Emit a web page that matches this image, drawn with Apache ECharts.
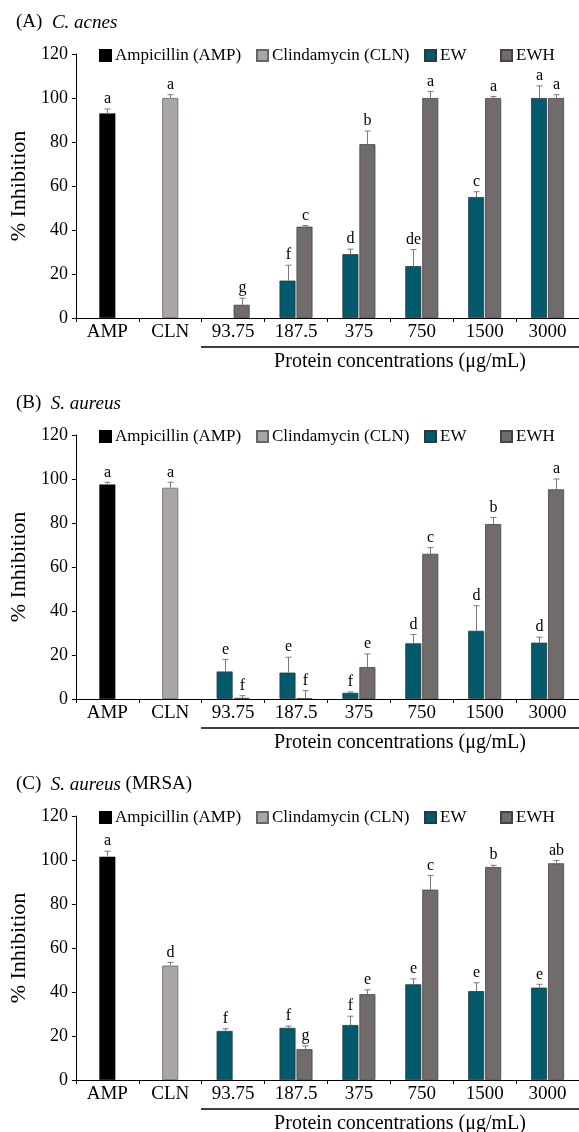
<!DOCTYPE html>
<html>
<head>
<meta charset="utf-8">
<script src="https://cdn.jsdelivr.net/npm/echarts@6/dist/echarts.min.js"></script>
<style>
html,body{margin:0;padding:0;background:#fff;}
#chart{width:579px;height:1132px;}
</style>
</head>
<body>
<div id="chart"></div>
<script>
// ---------- data ----------
const categories = ['AMP', 'CLN', '93.75', '187.5', '375', '750', '1500', '3000'];
const seriesNames = ['Ampicillin (AMP)', 'Clindamycin (CLN)', 'EW', 'EWH'];
const yMin = 0, yMax = 120, yInterval = 20;

// Panel A: C. acnes
const A_control = [93, 100];
const A_controlErr = [2, 1.5];
const A_controlLetters = ['a', 'a'];
const A_EW = [null, null, null, 17, 29, 23.6, 55, 100];
const A_EWErr = [0, 0, 0, 7, 2.3, 7.5, 2.4, 5.5];
const A_EWLetters = ['', '', '', 'f', 'd', 'de', 'c', 'a'];
const A_EWH = [null, null, 6, 41.5, 79, 100, 100, 100];
const A_EWHErr = [0, 0, 3, 0.5, 6, 3, 0.7, 1.5];
const A_EWHLetters = ['', '', 'g', 'c', 'b', 'a', 'a', 'a'];

// Panel B: S. aureus
const B_control = [97.5, 96];
const B_controlErr = [1, 2.5];
const B_controlLetters = ['a', 'a'];
const B_EW = [null, null, 12.5, 12, 2.8, 25.3, 31, 25.6];
const B_EWErr = [0, 0, 5.5, 7, 0.4, 4, 11.4, 2.5];
const B_EWLetters = ['', '', 'e', 'e', 'f', 'd', 'd', 'd'];
const B_EWH = [null, null, 0.5, 0.3, 14.5, 66, 79.5, 95.3];
const B_EWHErr = [0, 0, 1, 3.5, 6, 2.8, 3, 4.7];
const B_EWHLetters = ['', '', 'f', 'f', 'e', 'c', 'b', 'a'];

// Panel C: S. aureus (MRSA)
const C_control = [101.5, 52];
const C_controlErr = [2.5, 1.5];
const C_controlLetters = ['a', 'd'];
const C_EW = [null, null, 22.3, 23.7, 25, 43.5, 40.4, 42];
const C_EWErr = [0, 0, 1, 0.8, 4, 2.5, 3.8, 1.5];
const C_EWLetters = ['', '', 'f', 'f', 'f', 'e', 'e', 'e'];
const C_EWH = [null, null, null, 14, 39, 86.5, 96.8, 98.5];
const C_EWHErr = [0, 0, 0, 1.5, 2, 6.5, 0.8, 1.3];
const C_EWHLetters = ['', '', '', 'g', 'e', 'c', 'b', 'ab'];

const panelTitles = [
  ['(A)  ', 'C. acnes', ''],
  ['(B)  ', 'S. aureus', ''],
  ['(C)  ', 'S. aureus', ' (MRSA)']
];
const xTitle = 'Protein concentrations (\u03bcg/mL)';
const yTitle = '% Inhibition';

// ---------- styling / layout ----------
const FONT = '"Liberation Serif", "Times New Roman", serif';
const colors = ['#000000', '#aba6a6', '#035a6c', '#716b6b'];
const panels = [
  {c: A_control, cE: A_controlErr, cL: A_controlLetters, ew: A_EW, ewE: A_EWErr, ewL: A_EWLetters, ewh: A_EWH, ewhE: A_EWHErr, ewhL: A_EWHLetters},
  {c: B_control, cE: B_controlErr, cL: B_controlLetters, ew: B_EW, ewE: B_EWErr, ewL: B_EWLetters, ewh: B_EWH, ewhE: B_EWHErr, ewhL: B_EWHLetters},
  {c: C_control, cE: C_controlErr, cL: C_controlLetters, ew: C_EW, ewE: C_EWErr, ewL: C_EWLetters, ewh: C_EWH, ewhE: C_EWHErr, ewhL: C_EWHLetters}
];
const PANEL_STEP = 381;
const GRID_LEFT = 73, GRID_TOP = 54, GRID_H = 264, CAT_W = 64;
const BAR_W = 16, BAR_GAP = 1;

const option = {
  animation: false,
  backgroundColor: '#fff',
  textStyle: {fontFamily: FONT, color: '#000'},
  title: [], legend: [], grid: [], xAxis: [], yAxis: [], series: [], graphic: []
};

const legendLefts = [99, 256, 424, 500];

panels.forEach((P, p) => {
  const off = p * PANEL_STEP;
  const t = panelTitles[p];
  option.title.push({
    left: 11, top: 8 + off,
    text: t[0] + '{i|' + t[1] + '}' + t[2],
    textStyle: {fontFamily: FONT, fontSize: 19, fontWeight: 'normal', color: '#000',
      rich: {i: {fontFamily: FONT, fontSize: 19, fontStyle: 'italic', color: '#000'}}}
  });
  seriesNames.forEach((n, k) => {
    option.legend.push({
      data: [n], left: legendLefts[k], top: 47 + off, padding: 0,
      itemWidth: 11, itemHeight: 11, icon: 'rect', selectedMode: false,
      textStyle: {fontFamily: FONT, fontSize: 17, color: '#000', padding: [0, 0, 0, -1]}
    });
  });
  option.grid.push({left: GRID_LEFT, top: GRID_TOP + off, width: CAT_W * categories.length, height: GRID_H, containLabel: false});
  option.xAxis.push({
    type: 'category', gridIndex: p, data: categories,
    axisLine: {lineStyle: {color: '#000', width: 1}},
    axisTick: {show: true, length: 4, lineStyle: {color: '#000'}},
    axisLabel: {fontFamily: FONT, fontSize: 19, color: '#000', margin: 5, interval: 0}
  });
  option.xAxis.push({type: 'category', gridIndex: p, data: categories, show: false});
  option.yAxis.push({
    type: 'value', gridIndex: p, min: yMin, max: yMax, interval: yInterval,
    name: yTitle, nameLocation: 'middle', nameGap: 42,
    nameTextStyle: {fontFamily: FONT, fontSize: 22, color: '#000'},
    axisLine: {show: true, lineStyle: {color: '#000', width: 1}},
    axisTick: {show: true, length: 4, lineStyle: {color: '#000'}},
    axisLabel: {fontFamily: FONT, fontSize: 18, color: '#000', margin: 8},
    splitLine: {show: false}
  });
  const ampData = categories.map((c, i) => i === 0 ? P.c[0] : null);
  const clnData = categories.map((c, i) => i === 1 ? P.c[1] : null);
  option.series.push({
    name: seriesNames[0], type: 'bar', xAxisIndex: 2 * p, yAxisIndex: p, stack: 'ctrl' + p,
    barWidth: BAR_W, data: ampData, itemStyle: {color: colors[0], borderColor: '#000', borderWidth: 0.5}
  });
  option.series.push({
    name: seriesNames[1], type: 'bar', xAxisIndex: 2 * p, yAxisIndex: p, stack: 'ctrl' + p,
    barWidth: BAR_W, data: clnData, itemStyle: {color: colors[1], borderColor: '#666', borderWidth: 0.8}
  });
  option.series.push({
    name: seriesNames[2], type: 'bar', xAxisIndex: 2 * p + 1, yAxisIndex: p,
    barWidth: BAR_W, barGap: (BAR_GAP / BAR_W * 100) + '%', data: P.ew,
    itemStyle: {color: colors[2], borderColor: '#2a3a40', borderWidth: 0.8}
  });
  option.series.push({
    name: seriesNames[3], type: 'bar', xAxisIndex: 2 * p + 1, yAxisIndex: p,
    barWidth: BAR_W, barGap: (BAR_GAP / BAR_W * 100) + '%', data: P.ewh,
    itemStyle: {color: colors[3], borderColor: '#444', borderWidth: 0.8}
  });
  // error bars + significance letters
  const items = [];
  const shift = (BAR_W + BAR_GAP) / 2;
  P.c.forEach((v, i) => items.push({value: [i, v, P.cE[i]], dx: 0, letter: P.cL[i]}));
  P.ew.forEach((v, i) => { if (v != null) items.push({value: [i, v, P.ewE[i]], dx: -shift, letter: P.ewL[i]}); });
  P.ewh.forEach((v, i) => { if (v != null) items.push({value: [i, v, P.ewhE[i]], dx: shift, letter: P.ewhL[i]}); });
  option.series.push({
    type: 'custom', xAxisIndex: 2 * p, yAxisIndex: p, clip: false, silent: true, z: 5,
    data: items.map(d => d.value),
    renderItem: function (params, api) {
      const d = items[params.dataIndex];
      const base = api.coord([api.value(0), api.value(1)]);
      const top = api.coord([api.value(0), api.value(1) + api.value(2)]);
      const x = Math.round(base[0] + d.dx) + 0.5;
      const children = [];
      if (api.value(2) > 0) {
        children.push({type: 'line', shape: {x1: x, y1: base[1], x2: x, y2: top[1]}, style: {stroke: '#7a7a7a', lineWidth: 1}});
        children.push({type: 'line', shape: {x1: x - 3, y1: top[1], x2: x + 3, y2: top[1]}, style: {stroke: '#7a7a7a', lineWidth: 1}});
      }
      if (d.letter) {
        children.push({type: 'text', x: x, y: top[1] - 2,
          style: {text: d.letter, fontFamily: FONT, fontSize: 16, fill: '#000', textAlign: 'center', textVerticalAlign: 'bottom'}});
      }
      return {type: 'group', children: children};
    }
  });
  // bracket line & axis title under concentrations
  option.graphic.push({type: 'line', shape: {x1: GRID_LEFT + 2 * CAT_W, y1: 347 + off, x2: 579, y2: 347 + off},
    style: {stroke: '#000', lineWidth: 1.5}});
  option.graphic.push({type: 'text', x: 400, y: 362 + off,
    style: {text: xTitle, fontFamily: FONT, fontSize: 20, fill: '#000', textAlign: 'center', textVerticalAlign: 'middle'}});
});

const chart = echarts.init(document.getElementById('chart'), null, {renderer: 'canvas'});
chart.setOption(option);
</script>
</body>
</html>
